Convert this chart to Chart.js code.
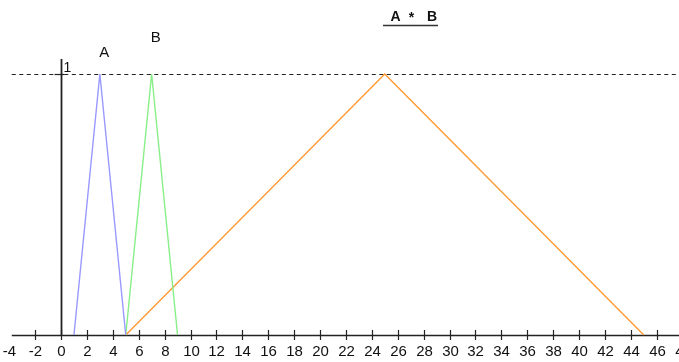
<!DOCTYPE html>
<html>
<head>
<meta charset="utf-8">
<script src="https://cdn.jsdelivr.net/npm/chart.js@4"></script>
<style>
  html, body { margin: 0; padding: 0; background: #fff; }
  #wrap { width: 679px; height: 362px; }
</style>
</head>
<body>
<div id="wrap"><canvas id="c" width="679" height="362"></canvas></div>
<script>
// Triangular fuzzy numbers A, B and their sum A * B
const aX = [1, 3, 5];
const aY = [0, 1, 0];
const bX = [5, 7, 9];
const bY = [0, 1, 0];
const abX = [5, 25, 45];
const abY = [0, 1, 0];

const xTickValues = [-4, -2, 0, 2, 4, 6, 8, 10, 12, 14, 16, 18, 20, 22, 24, 26, 28, 30, 32, 34, 36, 38, 40, 42, 44, 46, 48];
const yTickValues = [1];
const seriesNames = ['A', 'B', 'A * B'];

const toPoints = (xs, ys) => xs.map((x, i) => ({ x: x, y: ys[i] }));

const axesPlugin = {
  id: 'fuzzyAxes',
  beforeDatasetsDraw(chart) {
    const ctx = chart.ctx;
    const xs = chart.scales.x, ys = chart.scales.y;
    const x0 = xs.getPixelForValue(0);
    const y0 = Math.round(ys.getPixelForValue(0)) + 0.5;
    const y1 = Math.round(ys.getPixelForValue(1)) + 0.5;
    const left = xs.getPixelForValue(-3.8);
    ctx.save();
    ctx.strokeStyle = '#222';
    ctx.lineWidth = 1.2;
    // dashed membership = 1 line
    ctx.setLineDash([4, 3.5]);
    ctx.beginPath();
    ctx.moveTo(left, y1);
    ctx.lineTo(chart.width, y1);
    ctx.stroke();
    ctx.setLineDash([]);
    // x axis
    ctx.lineWidth = 1.6;
    ctx.beginPath();
    ctx.moveTo(left, y0);
    ctx.lineTo(chart.width, y0);
    ctx.stroke();
    // y axis
    const xa = Math.round(x0) + 0.5;
    ctx.lineWidth = 1.8;
    ctx.beginPath();
    ctx.moveTo(xa, 59);
    ctx.lineTo(xa, y0);
    ctx.stroke();
    // y tick at 1
    ctx.lineWidth = 1.2;
    ctx.beginPath();
    ctx.moveTo(xa - 7, y1);
    ctx.lineTo(xa + 3, y1);
    ctx.stroke();
    // x ticks
    ctx.font = '15px "Liberation Sans", Arial, sans-serif';
    ctx.fillStyle = '#111';
    ctx.textAlign = 'center';
    ctx.textBaseline = 'alphabetic';
    xTickValues.forEach(v => {
      const px = Math.round(xs.getPixelForValue(v)) + 0.5;
      if (v > -4) {
        ctx.beginPath();
        ctx.moveTo(px, y0 - 5.5);
        ctx.lineTo(px, y0 + 4.5);
        ctx.stroke();
      }
      ctx.fillText(String(v), px, 355.5);
    });
    // y tick label
    ctx.font = '14px "Liberation Sans", Arial, sans-serif';
    ctx.textAlign = 'left';
    yTickValues.forEach(v => {
      ctx.fillText(String(v), xa + 2, ys.getPixelForValue(v) - 2);
    });
    ctx.restore();
  },
  afterDatasetsDraw(chart) {
    const ctx = chart.ctx;
    const xs = chart.scales.x;
    ctx.save();
    ctx.fillStyle = '#111';
    ctx.textAlign = 'center';
    ctx.textBaseline = 'middle';
    ctx.font = '15px "Liberation Sans", Arial, sans-serif';
    // series labels above the peaks
    ctx.fillText(seriesNames[0], xs.getPixelForValue(aX[1]) + 4.5, 52.5);
    ctx.fillText(seriesNames[1], xs.getPixelForValue(bX[1]) + 4, 37.5);
    // bold, underlined title for the sum
    ctx.font = 'bold 14px "Liberation Sans", Arial, sans-serif';
    const parts = seriesNames[2].split(' ');
    ctx.fillText(parts[0], 395.5, 17.5);
    ctx.fillText(parts[1], 411.5, 18.5);
    ctx.fillText(parts[2], 432, 17.5);
    ctx.beginPath();
    ctx.moveTo(383, 25.5);
    ctx.lineTo(438, 25.5);
    ctx.lineWidth = 1.3;
    ctx.strokeStyle = '#333';
    ctx.stroke();
    ctx.restore();
  }
};

new Chart(document.getElementById('c'), {
  type: 'scatter',
  data: {
    datasets: [
      { label: seriesNames[0], data: toPoints(aX, aY), borderColor: '#9999ff' },
      { label: seriesNames[1], data: toPoints(bX, bY), borderColor: '#88ee88' },
      { label: seriesNames[2], data: toPoints(abX, abY), borderColor: '#ff9933' }
    ].map(d => Object.assign(d, { showLine: true, pointRadius: 0, borderWidth: 1.4, tension: 0, fill: false }))
  },
  options: {
    responsive: false,
    animation: false,
    devicePixelRatio: 1,
    layout: { padding: 0 },
    plugins: { legend: { display: false }, tooltip: { enabled: false } },
    scales: {
      x: { type: 'linear', display: false, min: -4.71, max: 47.72 },
      y: { type: 'linear', display: false, min: -0.1034, max: 1.2835 }
    }
  },
  plugins: [axesPlugin]
});
</script>
</body>
</html>
